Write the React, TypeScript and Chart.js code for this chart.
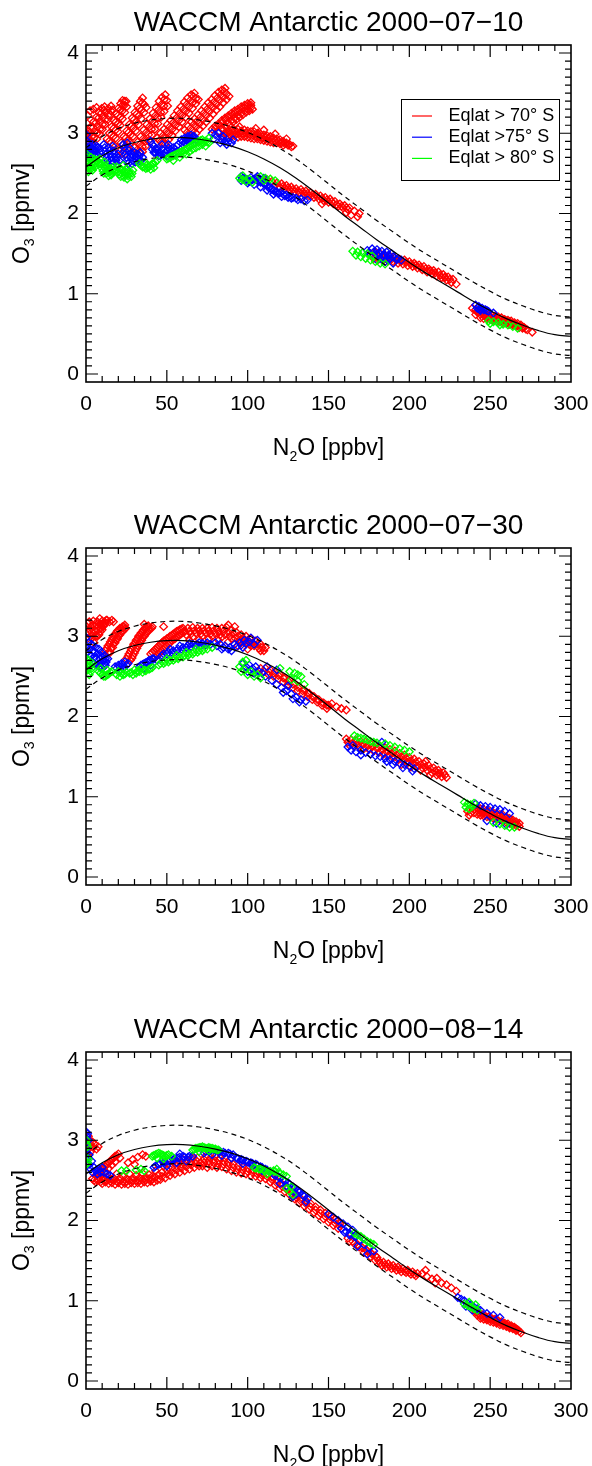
import React, { useEffect, useRef } from "react";
import { Chart, registerables } from "chart.js";

Chart.register(...registerables);

const FONT = "'Liberation Sans', Arial, Helvetica, sans-serif";

const PANEL_TITLES = [
  "WACCM Antarctic 2000\u221207\u221210",
  "WACCM Antarctic 2000\u221207\u221230",
  "WACCM Antarctic 2000\u221208\u221214",
];
const SERIES_LABELS = ["Eqlat > 70\u00b0 S", "Eqlat >75\u00b0 S", "Eqlat > 80\u00b0 S"];
const SERIES_COLORS = ["#ff0000", "#0000ff", "#00ff00"];
const X_TITLE: [string, boolean][] = [["N", false], ["2", true], ["O [ppbv]", false]];
const Y_TITLE: [string, boolean][] = [["O", false], ["3", true], [" [ppmv]", false]];
const X_TICKS = [0, 50, 100, 150, 200, 250, 300];
const Y_TICKS = [0, 1, 2, 3, 4];
const X_RANGE = [0, 300];
const Y_RANGE = [-0.1, 4.1];

// reference fit curve and its +/- envelope
const FIT_N2O = [0, 10, 20, 30, 40, 50, 60, 70, 80, 90, 100, 110, 120, 130, 140, 150, 160, 170, 180, 190, 200, 210, 220, 230, 240, 250, 260, 270, 280, 290, 300];
const FIT_MID = [2.58, 2.72, 2.82, 2.885, 2.925, 2.945, 2.945, 2.925, 2.89, 2.84, 2.77, 2.68, 2.57, 2.44, 2.29, 2.13, 1.97, 1.82, 1.67, 1.53, 1.39, 1.26, 1.14, 1.02, 0.9, 0.79, 0.69, 0.61, 0.54, 0.49, 0.47];
const FIT_HIGH = [2.82, 2.96, 3.06, 3.125, 3.165, 3.185, 3.185, 3.165, 3.13, 3.08, 3.01, 2.92, 2.81, 2.68, 2.53, 2.37, 2.21, 2.06, 1.91, 1.77, 1.63, 1.5, 1.38, 1.26, 1.14, 1.03, 0.93, 0.85, 0.78, 0.73, 0.71];
const FIT_LOW = [2.34, 2.48, 2.58, 2.645, 2.685, 2.705, 2.705, 2.685, 2.65, 2.6, 2.53, 2.44, 2.33, 2.2, 2.05, 1.89, 1.73, 1.58, 1.43, 1.29, 1.15, 1.02, 0.9, 0.78, 0.66, 0.55, 0.45, 0.37, 0.3, 0.25, 0.23];

type P = [number, number];

// ---------- panel 1 : 2000-07-10 ----------
const P1_RED: P[] = [
  [0.5,3.0],[0.8,3.12],[1.2,3.22],[2.5,3.28],[4.5,3.3],[6.5,3.32],
  [2,2.9],[3.7,2.96],[5.4,3.02],[7.1,3.08],[8.8,3.14],[10.5,3.2],[12.2,3.26],[13.9,3.31],[15.5,3.34],
  [1.2,3.02],[2.9,3.08],[4.6,3.14],[6.3,3.2],[8,3.26],[9.7,3.31],[11.5,3.33],
  [5,2.87],[6.7,2.93],[8.4,2.99],[10.1,3.05],[11.8,3.11],[13.5,3.17],[15.2,3.23],[16.5,3.29],
  [1,2.95],[2.7,3.01],[4.4,3.07],[6.1,3.13],[7.8,3.19],[9.5,3.25],[11.2,3.29],[3.5,2.9],[5.2,2.95],[6.9,3.0],[8.6,3.05],[10.3,3.11],[12,3.17],[13.7,3.22],[15.4,3.28],
  [13,2.93],[14.4,3.0],[15.8,3.08],[17.2,3.16],[18.6,3.24],[20,3.31],[21.4,3.37],[22.6,3.41],
  [15.5,2.88],[16.9,2.96],[18.3,3.04],[19.7,3.12],[21.1,3.2],[22.5,3.28],[23.8,3.35],[24.8,3.4],
  [14.2,2.9],[15.6,2.98],[17,3.06],[18.4,3.14],[19.8,3.22],[21.2,3.29],[22.6,3.35],[23.8,3.4],[17,2.86],[18.4,2.94],[19.8,3.02],[21.2,3.1],[22.6,3.18],[24,3.26],[25.2,3.33],
  [20,2.8],[21.7,2.88],[23.4,2.96],[25.1,3.03],[26.8,3.11],[28.5,3.19],[30.2,3.26],[31.9,3.34],[33.6,3.4],[35,3.44],
  [22.5,2.75],[24.2,2.83],[25.9,2.91],[27.6,2.98],[29.3,3.06],[31,3.14],[32.7,3.22],[34.4,3.29],[36,3.36],
  [21.2,2.78],[22.9,2.86],[24.6,2.94],[26.3,3.01],[28,3.09],[29.7,3.17],[31.4,3.24],[33.1,3.31],[34.8,3.38],[24,2.74],[25.7,2.81],[27.4,2.88],[29.1,2.96],[30.8,3.03],[32.5,3.11],[34.2,3.18],[35.9,3.26],[37.2,3.32],
  [30,2.82],[31.9,2.89],[33.8,2.96],[35.7,3.04],[37.6,3.11],[39.5,3.18],[41.4,3.25],[43.3,3.32],[45.2,3.4],[47.1,3.45],[49,3.48],
  [33,2.76],[34.9,2.83],[36.8,2.9],[38.7,2.98],[40.6,3.05],[42.5,3.12],[44.4,3.19],[46.3,3.26],[48.2,3.34],[50,3.41],
  [31.5,2.79],[33.4,2.86],[35.3,2.93],[37.2,3.01],[39.1,3.08],[41,3.15],[42.9,3.22],[44.8,3.29],[46.7,3.36],[48.4,3.42],[35,2.77],[36.9,2.84],[38.8,2.91],[40.7,2.98],[42.6,3.05],[44.5,3.12],[46.4,3.2],[48.3,3.27],[50.5,3.34],
  [44,2.94],[46.1,3.0],[48.2,3.05],[50.3,3.11],[52.4,3.16],[54.5,3.22],[56.6,3.28],[58.7,3.33],[60.8,3.39],[62.9,3.44],[65,3.48],[67,3.5],
  [47,2.88],[49.1,2.94],[51.2,2.99],[53.3,3.05],[55.4,3.1],[57.5,3.16],[59.6,3.22],[61.7,3.27],[63.8,3.33],[65.9,3.38],[68,3.43],
  [45.5,2.91],[47.6,2.97],[49.7,3.02],[51.8,3.08],[53.9,3.13],[56,3.19],[58.1,3.25],[60.2,3.3],[62.3,3.36],[64.4,3.41],[66.5,3.46],[49,2.86],[51.1,2.92],[53.2,2.97],[55.3,3.03],[57.4,3.08],[59.5,3.14],[61.6,3.2],[63.7,3.25],[65.8,3.31],[68,3.37],[69.5,3.42],
  [61,3.04],[63.1,3.09],[65.2,3.14],[67.2,3.18],[69.3,3.23],[71.4,3.28],[73.5,3.33],[75.6,3.38],[77.7,3.42],[79.8,3.47],[81.9,3.51],[84,3.54],[86,3.56],
  [64,2.98],[66.1,3.03],[68.2,3.08],[70.2,3.12],[72.3,3.17],[74.4,3.22],[76.5,3.27],[78.6,3.32],[80.7,3.36],[82.8,3.41],[84.9,3.45],[87,3.49],
  [62.5,3.01],[64.6,3.06],[66.7,3.11],[68.7,3.15],[70.8,3.2],[72.9,3.25],[75,3.3],[77.1,3.35],[79.2,3.39],[81.3,3.44],[83.4,3.48],[85.5,3.52],[66,2.96],[68.1,3.0],[70.2,3.05],[72.3,3.09],[74.4,3.14],[76.5,3.19],[78.6,3.24],[80.7,3.29],[82.8,3.33],[84.9,3.38],[87,3.42],[88.5,3.46],
  [78,3.05],[80,3.09],[82,3.12],[84,3.16],[86,3.19],[88,3.22],[90,3.25],[92,3.28],[94,3.3],[96,3.33],[98,3.35],[100,3.37],[102,3.38],
  [82,3.02],[84,3.06],[86,3.09],[88,3.13],[90,3.16],[92,3.19],[94,3.22],[96,3.25],[98,3.28],[100,3.3],[102,3.32],
  [80,3.06],[82,3.1],[84,3.13],[86,3.17],[88,3.2],[90,3.22],[92,3.25],[94,3.27],[96,3.3],[98,3.32],[100,3.34],[102,3.35],[85,3.04],[87,3.07],[89,3.1],[91,3.14],[93,3.17],[95,3.2],[97,3.23],[99,3.26],[101,3.28],[103,3.3],
  [84,2.96],[86,3.0],[88,3.02],[90,3.04],[92,3.04],[94,3.05],[96,3.03],[98,3.04],[100,3.03],[102,3.02],[104,3.02],[106,3.0],[108,2.99],[110,2.98],[112,2.97],[114,2.96],[116,2.94],[118,2.93],[120,2.92],[122,2.9],[124,2.88],[126,2.86],[128,2.84],
  [88,2.94],[90,2.96],[92,2.97],[94,2.95],[96,2.96],[98,2.96],[100,2.95],[102,2.94],[104,2.93],[106,2.93],[108,2.92],[110,2.91],[112,2.9],[114,2.89],[116,2.88],[118,2.88],[120,2.87],[122,2.85],
  [86,2.98],[89,2.99],[91,3.0],[93,3.0],[95,3.0],[97,3.0],[99,3.0],[101,2.99],[103,2.98],[105,2.97],[107,2.96],[109,2.95],[111,2.94],[113,2.93],[115,2.92],[117,2.91],[119,2.9],[121,2.88],[123,2.87],[125,2.85],[127,2.83],
  [95,3.08],[105,3.06],[110,3.04],[117,2.99],[124,2.93],
  [112,2.42],[115,2.4],[118,2.38],[121,2.37],[124,2.35],[127,2.33],[130,2.31],[133,2.3],[136,2.28],[139,2.26],[142,2.24],[145,2.22],[148,2.2],[151,2.18],[154,2.15],[157,2.12],[160,2.1],[163,2.07],[166,2.03],[169,2.0],
  [120,2.32],[123,2.31],[126,2.29],[129,2.27],[132,2.26],[135,2.24],[138,2.22],[141,2.2],[144,2.18],[147,2.16],[150,2.14],[153,2.12],[156,2.09],[159,2.07],[162,2.05],
  [117,2.35],[122,2.34],[125,2.32],[128,2.3],[131,2.28],[134,2.27],[137,2.25],[140,2.23],[143,2.21],[146,2.19],[149,2.17],[152,2.15],[155,2.11],[158,2.09],[161,2.07],
  [134,2.2],[146,2.12],[164,1.98],[168,1.96],[161,2.01],
  [176,1.5],[179,1.52],[182,1.5],[185,1.48],[188,1.47],[191,1.45],[194,1.43],[197,1.42],[200,1.4],[203,1.38],[206,1.36],[209,1.34],[212,1.31],[215,1.29],[218,1.27],[221,1.24],[224,1.21],[227,1.18],
  [178,1.44],[181,1.43],[184,1.42],[187,1.41],[190,1.4],[193,1.38],[196,1.37],[199,1.35],[202,1.34],[205,1.32],[208,1.3],[211,1.27],[214,1.25],[217,1.22],[220,1.2],[223,1.17],[226,1.14],[229,1.12],
  [177,1.47],[180,1.47],[183,1.46],[186,1.45],[189,1.43],[192,1.42],[195,1.41],[198,1.39],[201,1.37],[204,1.36],[207,1.33],[210,1.31],[213,1.29],[216,1.26],[219,1.23],[222,1.21],[225,1.18],
  [186,1.45],[195,1.4],[204,1.35],[213,1.28],[222,1.2],
  [239,0.82],[241,0.8],[243,0.77],[245,0.76],[247,0.75],[249,0.74],[251,0.73],[253,0.72],[255,0.71],[257,0.7],[259,0.68],[261,0.67],[263,0.66],[265,0.64],[267,0.63],[269,0.61],[271,0.58],[273,0.55],[276,0.52],
  [244,0.7],[246,0.69],[248,0.69],[250,0.68],[252,0.67],[254,0.66],[256,0.65],[258,0.64],[260,0.63],[262,0.62],[264,0.61],[266,0.6],[268,0.58],[270,0.57],
  [242,0.77],[244,0.74],[246,0.73],[248,0.72],[250,0.71],[252,0.7],[254,0.69],[256,0.68],[258,0.67],[260,0.66],[262,0.65],[264,0.63],[266,0.62],[268,0.6],[270,0.59],[272,0.56],
  [247,0.72],[253,0.69],[259,0.66],[265,0.62],[241,0.74],
];
const P1_BLUE: P[] = [
  [0.3,2.98],[0.5,2.9],[0.7,2.82],[1,2.74],[1.5,2.86],[2,2.78],[2.5,2.7],[3,2.82],[3.5,2.75],[4.5,2.8],[5,2.72],[6,2.78],[7,2.74],[8,2.8],[6.5,2.84],
  [0.5,2.78],[1.2,2.7],[2,2.88],[2.7,2.8],[3.2,2.72],[4,2.86],[4.8,2.76],[5.5,2.82],[6.2,2.74],[7.5,2.82],[8.5,2.76],
  [11,2.86],[12,2.78],[13,2.7],[14,2.82],[15,2.74],[16,2.66],[17,2.78],[18,2.7],[19,2.62],[20,2.74],[13.5,2.62],[16.5,2.84],
  [11.5,2.82],[12.5,2.74],[13.5,2.66],[14.5,2.78],[15.5,2.7],[16.5,2.62],[17.5,2.74],[18.5,2.66],[19.5,2.7],[20.5,2.66],
  [23,2.86],[24,2.78],[25,2.7],[26,2.62],[27,2.82],[28,2.74],[29,2.66],[30,2.76],[31,2.7],[32,2.64],[33,2.72],[34,2.66],[35,2.7],[25.5,2.88],
  [23.5,2.82],[24.5,2.74],[25.5,2.66],[26.5,2.78],[27.5,2.7],[28.5,2.62],[29.5,2.72],[30.5,2.64],[31.5,2.74],[32.5,2.68],[33.5,2.76],
  [40,2.9],[42,2.84],[44,2.8],[46,2.76],[48,2.74],[50,2.78],[52,2.8],[54,2.82],[56,2.84],[41,2.8],[43,2.76],[45,2.72],[47,2.86],[51,2.86],[55,2.76],
  [41,2.86],[43,2.8],[45,2.76],[47,2.8],[49,2.76],[51,2.82],[53,2.78],[55,2.8],[57,2.86],[42,2.76],[46,2.72],[50,2.72],
  [59,2.92],[61,2.94],[63,2.96],[65,2.98],[67,2.96],[60,2.86],[62,2.88],[64,2.9],[66,2.92],[68,2.92],
  [60,2.9],[62,2.92],[64,2.94],[66,2.96],[61,2.88],[63,2.92],[65,2.94],
  [78,3.0],[80,2.98],[82,3.0],[84,2.92],[86,2.9],[88,2.89],[90,2.88],[79,2.93],[83,2.88],[87,2.86],[91,2.92],[85,2.96],
  [96,2.46],[98,2.44],[100,2.42],[102,2.45],[104,2.43],[106,2.41],[108,2.39],[110,2.37],[112,2.35],[114,2.33],[116,2.29],[118,2.27],[120,2.26],[122,2.24],[124,2.23],[126,2.21],[128,2.2],[130,2.19],[133,2.18],[137,2.17],
  [106,2.46],[110,2.44],[96,2.41],[100,2.38],[104,2.36],[108,2.33],[112,2.29],[116,2.24],[121,2.21],
  [97,2.44],[99,2.42],[101,2.4],[103,2.42],[105,2.44],[107,2.42],[109,2.4],[111,2.38],[113,2.32],[115,2.3],[117,2.27],[119,2.25],[123,2.22],[125,2.2],[127,2.19],[131,2.17],[135,2.16],
  [174,1.54],[177,1.56],[180,1.55],[183,1.53],[186,1.52],[189,1.5],[178,1.48],[181,1.47],[184,1.46],[188,1.44],[192,1.43],[195,1.42],[190,1.38],[185,1.4],[180,1.42],
  [175,1.51],[178,1.52],[181,1.51],[184,1.49],[187,1.48],[190,1.46],[193,1.44],[186,1.43],[182,1.44],
  [241,0.86],[243,0.84],[245,0.82],[247,0.8],[244,0.79],[249,0.78],[252,0.76],[242,0.82],[244,0.81],[246,0.8],[248,0.79],
];
const P1_GREEN: P[] = [
  [0.3,2.74],[0.5,2.66],[1,2.58],[1.5,2.52],[2,2.64],[2.5,2.56],[3.5,2.62],[4,2.54],[5,2.64],[5.5,2.58],[6.5,2.66],[7.5,2.62],[3,2.7],[8.5,2.68],
  [0.5,2.7],[1,2.62],[1.5,2.56],[2.5,2.6],[3,2.66],[3.5,2.56],[4.5,2.6],[5,2.68],[6,2.62],[7,2.66],[8,2.64],
  [10,2.56],[11,2.5],[12,2.6],[13,2.53],[14,2.47],[15,2.56],[16,2.5],[17,2.58],[18,2.54],[11.5,2.64],[9.5,2.62],
  [10.5,2.53],[11.5,2.57],[12.5,2.5],[13.5,2.56],[14.5,2.52],[15.5,2.48],[16.5,2.54],[17.5,2.52],
  [20,2.52],[21.5,2.46],[22.5,2.54],[24,2.48],[25.5,2.43],[26.5,2.52],[28,2.46],[29,2.54],[19,2.58],[23,2.6],
  [20.5,2.49],[21,2.56],[22,2.5],[23.5,2.45],[24.5,2.52],[25,2.56],[26,2.47],[27,2.5],[28.5,2.5],
  [33,2.62],[35,2.58],[37,2.56],[39,2.58],[41,2.62],[43,2.64],[36,2.63],[40,2.55],[38,2.61],[42,2.57],
  [34,2.6],[36,2.58],[38,2.57],[40,2.6],[42,2.62],[44,2.66],
  [50,2.68],[52,2.7],[54,2.72],[56,2.74],[58,2.76],[60,2.78],[62,2.8],[64,2.83],[66,2.86],[68,2.88],[70,2.9],[72,2.92],[74,2.9],[76,2.88],[66,2.8],[70,2.84],[74,2.84],[62,2.74],[58,2.7],[54,2.66],[72,2.86],[76,2.94],
  [51,2.69],[53,2.71],[55,2.73],[57,2.75],[59,2.77],[61,2.79],[63,2.81],[65,2.84],[67,2.87],[69,2.89],[71,2.91],[73,2.9],[75,2.89],[60,2.74],[64,2.77],[68,2.82],[72,2.88],
  [95,2.44],[97,2.42],[99,2.4],[101,2.43],[97,2.47],[108,2.46],[111,2.44],[114,2.43],[117,2.41],[110,2.41],[103,2.39],
  [165,1.53],[168,1.52],[171,1.51],[174,1.5],[170,1.46],[173,1.44],[176,1.42],[179,1.4],[182,1.38],[185,1.37],[167,1.48],[177,1.47],
  [249,0.66],[252,0.65],[255,0.64],[258,0.62],[261,0.61],[264,0.59],[267,0.57],[250,0.63],[256,0.61],
];

// ---------- panel 2 : 2000-07-30 ----------
const P2_RED: P[] = [
  [0.5,3.12],[1,3.05],[1.5,2.98],[2,3.18],[3,3.12],[3.5,3.05],[4,2.98],[4.5,3.19],[5.5,3.13],[6,3.06],[7,3.18],[8,3.12],[9,3.15],[10,3.19],[11,3.13],[12,3.16],[5,2.92],[7,3.0],[9,3.06],[13,3.2],[14.5,3.18],[16,3.2],[8.5,3.22],
  [1,3.16],[2.5,3.08],[3,3.0],[4,3.14],[5,3.08],[6,3.0],[6.5,3.14],[7.5,3.08],[8,3.02],[9.5,3.1],[10.5,3.14],[11.5,3.18],[12.5,3.2],[10,3.08],
  [12,2.82],[13.5,2.88],[15,2.93],[16.5,2.98],[18,3.03],[19.5,3.07],[21,3.1],[22.5,3.12],[14,2.8],[15.5,2.85],[17,2.9],[18.5,2.95],[20,3.0],[21.5,3.04],[23,3.07],[24.5,3.1],
  [13,2.85],[14.5,2.9],[16,2.96],[17.5,3.0],[19,3.05],[20.5,3.08],[22,3.1],[23.5,3.12],[15,2.8],[16.5,2.86],[18,2.92],[19.5,2.97],[21,3.02],[22.5,3.06],[24,3.09],
  [25,2.72],[26.5,2.78],[28,2.84],[29.5,2.9],[31,2.95],[32.5,3.0],[34,3.04],[35.5,3.08],[37,3.11],[38.5,3.13],[27.5,2.7],[29,2.76],[30.5,2.82],[32,2.88],[33.5,2.93],[35,2.98],[36.5,3.02],[38,3.06],[39.5,3.09],[41,3.12],
  [26,2.75],[27.5,2.81],[29,2.87],[30.5,2.92],[32,2.97],[33.5,3.02],[35,3.06],[36.5,3.1],[38,3.12],[28.5,2.73],[30,2.79],[31.5,2.85],[33,2.9],[34.5,2.95],[36,3.0],[37.5,3.04],[39,3.08],[40.5,3.1],
  [40,2.78],[42,2.82],[44,2.86],[46,2.9],[48,2.94],[50,2.97],[52,3.0],[54,3.03],[56,3.06],[58,3.08],[43,2.74],[45,2.78],[47,2.82],[49,2.86],[51,2.9],[53,2.94],[55,2.97],[57,3.0],[59,3.03],[61,3.06],
  [41,2.8],[43,2.84],[45,2.88],[47,2.92],[49,2.95],[51,2.98],[53,3.01],[55,3.04],[57,3.07],[59,3.09],[44,2.76],[46,2.8],[48,2.84],[50,2.88],[52,2.92],[54,2.96],[56,2.99],[58,3.02],[60,3.05],
  [60,3.1],[63,3.1],[66,3.11],[69,3.1],[72,3.1],[75,3.1],[78,3.11],[81,3.1],[84,3.1],[87,3.11],[90,3.08],[93,3.05],[96,3.02],[99,3.0],[102,2.97],[105,2.94],[108,2.9],[111,2.86],
  [62,3.02],[65,3.03],[68,3.04],[71,3.03],[74,3.04],[77,3.03],[80,3.03],[83,3.02],[86,3.02],[89,3.0],[92,2.98],[95,2.95],[98,2.93],[101,2.9],[104,2.88],[107,2.85],[110,2.82],
  [61,3.06],[64,3.06],[67,3.07],[70,3.07],[73,3.07],[76,3.07],[79,3.07],[82,3.06],[85,3.06],[88,3.05],[91,3.03],[94,3.0],[97,2.98],[100,2.95],[103,2.92],[106,2.9],[109,2.86],[66,2.99],[72,3.0],[78,3.0],[84,2.99],[90,2.97],[96,2.92],[102,2.88],[108,2.82],
  [64,2.95],[70,2.96],[76,2.97],[82,2.95],[88,2.93],[94,2.88],[100,2.84],
  [17,3.18],[24,3.14],[36,3.15],[48,3.12],[92,3.12],[88,3.14],
  [108,2.6],[111,2.6],[114,2.58],[117,2.55],[120,2.52],[123,2.48],[126,2.45],[129,2.41],[132,2.37],[135,2.33],[138,2.29],[141,2.25],[144,2.21],[147,2.17],[150,2.14],
  [113,2.52],[116,2.5],[119,2.47],[122,2.43],[125,2.4],[128,2.36],[131,2.32],[134,2.28],[137,2.25],[140,2.21],[143,2.18],[146,2.14],
  [110,2.56],[113,2.56],[116,2.54],[119,2.51],[122,2.48],[125,2.44],[128,2.4],[131,2.36],[134,2.32],[137,2.29],[140,2.25],[143,2.21],[146,2.17],[149,2.14],
  [152,2.16],[155,2.12],[158,2.1],[161,2.08],[149,2.1],
  [161,1.72],[164,1.71],[167,1.7],[170,1.69],[173,1.68],[176,1.66],[179,1.65],[182,1.63],[185,1.61],[188,1.59],[191,1.57],[194,1.54],[197,1.52],[200,1.49],[203,1.47],[206,1.44],[209,1.41],[212,1.39],[215,1.36],[218,1.33],[221,1.3],
  [163,1.64],[166,1.63],[169,1.62],[172,1.6],[175,1.59],[178,1.57],[181,1.55],[184,1.53],[187,1.51],[190,1.49],[193,1.47],[196,1.45],[199,1.43],[202,1.41],[205,1.38],[208,1.36],[211,1.33],[214,1.3],[217,1.27],[220,1.25],[223,1.24],
  [162,1.68],[165,1.67],[168,1.66],[171,1.65],[174,1.63],[177,1.62],[180,1.6],[183,1.58],[186,1.56],[189,1.54],[192,1.52],[195,1.5],[198,1.48],[201,1.45],[204,1.43],[207,1.4],[210,1.37],[213,1.35],[216,1.32],[219,1.29],[222,1.27],
  [195,1.4],[201,1.37],[207,1.33],[213,1.27],[218,1.29],[210,1.44],
  [236,0.82],[238,0.8],[240,0.84],[242,0.86],[244,0.85],[246,0.84],[248,0.83],[250,0.82],[252,0.8],[254,0.79],[256,0.78],[258,0.77],[260,0.75],[262,0.73],[264,0.71],[266,0.69],[268,0.67],
  [242,0.78],[244,0.77],[246,0.76],[248,0.75],[250,0.74],[252,0.73],[254,0.72],[256,0.71],[258,0.69],[260,0.68],[262,0.67],[264,0.65],[266,0.64],[268,0.63],
  [240,0.8],[243,0.81],[245,0.8],[247,0.79],[249,0.78],[251,0.77],[253,0.76],[255,0.75],[257,0.73],[259,0.72],[261,0.7],[263,0.68],[265,0.67],[267,0.65],
  [245,0.81],[251,0.77],[257,0.74],[263,0.69],[237,0.77],[239,0.86],
];
const P2_BLUE: P[] = [
  [0.3,2.98],[0.5,2.88],[1,2.8],[1.5,2.92],[2.5,2.84],[3,2.76],[3.5,2.9],[4.5,2.82],[5.5,2.74],[6,2.86],[7,2.78],[8.5,2.72],[9.5,2.8],[10.5,2.7],[11.5,2.76],
  [2,2.78],[4,2.88],[5,2.8],[6.5,2.72],[8,2.84],[9,2.76],[10,2.74],[11,2.7],[12,2.72],
  [5,2.66],[7,2.64],[9,2.62],[11,2.64],[12.5,2.68],[13.5,2.72],[6,2.64],[8,2.62],[10,2.6],[12,2.64],
  [18,2.62],[20,2.64],[22,2.66],[24,2.68],[26,2.66],[21,2.58],[23,2.6],[19,2.6],[21,2.62],[23,2.64],[25,2.64],
  [33,2.62],[35,2.65],[37,2.67],[39,2.7],[41,2.72],[36,2.6],[40,2.64],[44,2.7],[34,2.64],[36,2.66],[38,2.68],[40,2.7],[42,2.72],
  [47,2.76],[50,2.78],[53,2.8],[56,2.82],[59,2.84],[62,2.86],[65,2.87],[68,2.88],[71,2.88],[74,2.89],[77,2.9],[52,2.84],[58,2.88],[64,2.91],[70,2.92],
  [48,2.78],[51,2.8],[54,2.82],[57,2.84],[60,2.86],[63,2.88],[66,2.9],[69,2.9],[72,2.91],[75,2.92],
  [80,2.92],[83,2.9],[86,2.88],[89,2.86],[92,2.9],[95,2.92],[98,2.95],[101,2.93],[104,2.9],[84,2.84],[90,2.82],[97,2.86],[102,2.98],[106,2.95],
  [81,2.88],[85,2.86],[88,2.84],[93,2.87],[96,2.89],[99,2.91],
  [97,2.66],[99,2.62],[101,2.64],[103,2.6],[105,2.62],[107,2.56],[109,2.54],[111,2.5],[100,2.56],[104,2.54],[115,2.45],[118,2.4],[121,2.36],[124,2.32],[127,2.28],[130,2.24],[133,2.21],[136,2.19],[122,2.3],[128,2.22],[132,2.18],[125,2.38],[112,2.62],[118,2.58],
  [162,1.62],[164,1.58],[167,1.56],[170,1.58],[173,1.55],[176,1.53],[179,1.51],[182,1.5],[185,1.48],[188,1.46],[191,1.44],[194,1.42],[197,1.4],[200,1.38],[203,1.35],[190,1.4],[196,1.36],[202,1.32],[186,1.44],[170,1.52],[165,1.64],[183,1.68],
  [244,0.89],[247,0.88],[250,0.87],[253,0.85],[256,0.84],[259,0.82],[262,0.79],[241,0.91],[248,0.7],[254,0.67],[260,0.65],
];
const P2_GREEN: P[] = [
  [0.3,2.72],[0.5,2.64],[1,2.58],[1.5,2.7],[2.5,2.62],[3,2.56],[4,2.66],[2,2.52],[0.5,2.68],[1,2.62],[2,2.66],[3.5,2.6],
  [8,2.56],[10,2.52],[12,2.5],[14,2.53],[16,2.56],[9,2.6],[13,2.58],[9,2.54],[11,2.5],[13,2.52],[15,2.55],
  [19,2.52],[21,2.5],[23,2.52],[25,2.55],[20,2.56],[22,2.54],[24,2.53],
  [27,2.54],[29,2.52],[31,2.54],[33,2.56],[35,2.55],[37,2.57],[39,2.59],[41,2.61],[30,2.58],[34,2.6],[28,2.55],[32,2.57],[36,2.58],[40,2.6],
  [45,2.64],[48,2.66],[51,2.68],[54,2.7],[57,2.72],[60,2.74],[63,2.76],[66,2.78],[69,2.8],[72,2.82],[75,2.84],[50,2.72],[56,2.76],[62,2.8],[68,2.84],[78,2.86],
  [46,2.66],[49,2.68],[52,2.7],[55,2.72],[58,2.74],[61,2.76],[64,2.78],[67,2.8],[70,2.82],[73,2.84],
  [95,2.62],[96,2.56],[98,2.58],[100,2.52],[102,2.56],[104,2.5],[106,2.52],[97,2.68],[99,2.7],[108,2.48],[126,2.56],[129,2.54],[131,2.52],[133,2.5],[127,2.46],[131,2.44],[135,2.4],[120,2.6],
  [166,1.76],[168,1.74],[170,1.73],[172,1.72],[174,1.71],[176,1.69],[178,1.68],[185,1.66],[188,1.64],[191,1.62],[194,1.6],[197,1.58],[200,1.56],[180,1.67],
  [234,0.93],[236,0.91],[238,0.9],[240,0.92],[235,0.87],[237,0.85],[239,0.88],[256,0.66],[259,0.64],[262,0.62],[265,0.62],[252,0.68],
];

// ---------- panel 3 : 2000-08-14 ----------
const P3_RED: P[] = [
  [0.3,3.02],[0.5,2.95],[1,2.88],[2,3.0],[2.5,2.93],[3,2.86],[4,2.98],[4.5,2.91],[5.5,2.95],[6.5,2.89],[7.5,2.92],[1.5,3.05],
  [6,2.56],[8,2.6],[10,2.64],[12,2.68],[14,2.72],[16,2.76],[18,2.8],[20,2.83],[8,2.54],[10,2.57],[12,2.61],[14,2.65],[16,2.69],[18,2.73],[21,2.78],
  [7,2.58],[9,2.62],[11,2.66],[13,2.7],[15,2.74],[17,2.78],[19,2.81],
  [26,2.72],[29,2.76],[32,2.79],[35,2.82],[37,2.8],[30,2.7],
  [4,2.52],[6,2.48],[8,2.5],[10,2.46],[12,2.48],[14,2.46],[16,2.47],[18,2.45],[20,2.47],[22,2.45],[24,2.46],[26,2.45],[28,2.47],[30,2.46],[32,2.47],[34,2.46],[36,2.48],[38,2.47],[40,2.49],[42,2.48],[44,2.5],
  [5,2.5],[7,2.5],[9,2.48],[11,2.5],[13,2.5],[15,2.49],[17,2.5],[19,2.49],[21,2.5],[23,2.49],[25,2.49],[27,2.5],[29,2.5],[31,2.5],[33,2.5],[35,2.51],[37,2.51],[39,2.52],[41,2.52],[43,2.54],
  [9,2.56],[13,2.54],[17,2.53],[21,2.53],[25,2.52],[29,2.53],[33,2.53],[37,2.54],[41,2.55],[45,2.57],
  [11,2.53],[15,2.52],[23,2.55],[31,2.56],[39,2.57],
  [19,2.58],[27,2.58],[35,2.59],[43,2.62],
  [46,2.51],[49,2.53],[52,2.56],[55,2.58],[58,2.6],[61,2.62],[64,2.64],[67,2.66],[70,2.68],
  [47,2.6],[50,2.63],[53,2.66],[56,2.68],[59,2.7],[62,2.72],[65,2.73],[68,2.75],
  [47,2.55],[50,2.58],[53,2.6],[56,2.63],[59,2.65],[62,2.67],[65,2.69],[68,2.71],[71,2.72],[51,2.66],[57,2.71],[63,2.75],[69,2.78],
  [48,2.68],[54,2.73],[60,2.76],[66,2.78],
  [72,2.68],[75,2.66],[78,2.68],[81,2.66],[84,2.67],[87,2.64],[73,2.76],[76,2.74],[79,2.76],[82,2.75],[85,2.74],[88,2.72],[74,2.8],[80,2.8],[86,2.78],
  [73,2.72],[76,2.7],[79,2.72],[82,2.7],[85,2.7],[88,2.68],[77,2.78],[83,2.78],[89,2.76],
  [90,2.62],[93,2.6],[96,2.59],[99,2.58],[102,2.56],[105,2.55],[108,2.53],[91,2.7],[94,2.68],[97,2.67],[100,2.65],[103,2.63],[106,2.61],[109,2.59],
  [91,2.66],[94,2.64],[97,2.63],[100,2.61],[103,2.6],[106,2.58],[109,2.56],
  [111,2.52],[114,2.48],[117,2.44],[120,2.4],[123,2.36],[126,2.32],[129,2.27],[132,2.22],[112,2.58],[115,2.54],[118,2.5],[121,2.46],[124,2.42],[127,2.37],[130,2.32],[133,2.27],
  [112,2.55],[115,2.51],[118,2.47],[121,2.43],[124,2.39],[127,2.34],[130,2.29],[133,2.24],
  [135,2.18],[138,2.14],[141,2.1],[144,2.06],[147,2.02],[150,1.98],[153,1.94],[156,1.9],[136,2.25],[139,2.21],[142,2.17],[145,2.13],[148,2.09],[151,2.05],[154,2.01],[157,1.96],
  [136,2.21],[139,2.17],[142,2.13],[145,2.09],[148,2.05],[151,2.01],[154,1.97],[157,1.93],
  [162,1.78],[165,1.74],[168,1.7],[171,1.66],[174,1.62],[177,1.58],[180,1.54],[172,1.6],[176,1.55],[179,1.5],
  [163,1.74],[166,1.71],[169,1.67],[173,1.64],[176,1.6],[179,1.56],
  [181,1.5],[184,1.48],[187,1.46],[190,1.44],[193,1.42],[196,1.4],[199,1.38],[202,1.36],[205,1.34],[183,1.44],[186,1.42],[189,1.4],[192,1.38],[195,1.36],[198,1.35],[201,1.33],[204,1.31],
  [182,1.47],[185,1.45],[188,1.43],[191,1.41],[194,1.39],[197,1.37],[200,1.35],[203,1.33],
  [208,1.34],[211,1.3],[214,1.27],[217,1.28],[220,1.22],[223,1.2],[226,1.16],[229,1.12],[210,1.38],[216,1.22],
  [241,0.86],[243,0.84],[245,0.83],[247,0.81],[249,0.8],[251,0.78],[253,0.77],[255,0.75],[257,0.74],[259,0.72],[261,0.71],[263,0.69],[265,0.67],[267,0.64],[269,0.6],
  [244,0.78],[246,0.77],[248,0.76],[250,0.74],[252,0.73],[254,0.72],[256,0.7],[258,0.69],[260,0.68],[262,0.66],[264,0.65],[266,0.63],
  [242,0.82],[244,0.81],[246,0.8],[248,0.78],[250,0.77],[252,0.76],[254,0.74],[256,0.73],[258,0.71],[260,0.7],[262,0.68],[264,0.67],[266,0.65],[268,0.62],
];
const P3_BLUE: P[] = [
  [0.3,3.1],[0.5,3.05],[1,3.08],[1.5,3.0],[0.5,2.84],[1,2.78],[2,2.82],[0.3,2.9],
  [2,2.7],[3,2.64],[4,2.6],[5,2.66],[6,2.62],[7,2.58],[8,2.64],[9,2.6],[11,2.6],[13,2.58],[15,2.56],[10,2.66],[3.5,2.74],
  [42,2.66],[45,2.7],[48,2.72],[51,2.74],[54,2.76],[57,2.78],[60,2.8],[63,2.79],[66,2.8],[50,2.68],[56,2.72],[62,2.74],[58,2.83],
  [43,2.68],[46,2.71],[49,2.73],[52,2.75],[55,2.77],[58,2.79],[61,2.79],[64,2.8],
  [73,2.84],[76,2.86],[79,2.88],[82,2.87],[85,2.85],[88,2.84],[91,2.82],[78,2.82],[84,2.81],[90,2.78],
  [74,2.86],[77,2.87],[80,2.88],[83,2.86],[86,2.84],[89,2.83],
  [93,2.78],[96,2.76],[99,2.74],[102,2.72],[105,2.7],[108,2.67],[111,2.64],[114,2.61],[97,2.71],[103,2.68],[109,2.62],
  [94,2.77],[97,2.75],[100,2.73],[103,2.71],[106,2.69],[109,2.66],[112,2.63],
  [116,2.58],[119,2.55],[122,2.51],[125,2.47],[128,2.42],[131,2.37],[134,2.32],[137,2.27],[124,2.43],[130,2.33],[136,2.23],[120,2.46],[128,2.3],
  [117,2.56],[120,2.53],[123,2.49],[126,2.45],[129,2.4],[132,2.35],[135,2.3],
  [150,2.08],[153,2.04],[156,2.0],[159,1.96],[162,1.92],[165,1.88],[160,1.85],[163,1.82],[167,1.8],[158,1.9],
  [161,1.86],[163,1.84],[166,1.8],[169,1.75],[172,1.7],[175,1.66],[178,1.62],[168,1.68],[174,1.58],
  [230,1.04],[232,1.02],[234,1.0],[236,0.97],[238,0.95],[240,0.92],[242,0.9],[235,0.93],[239,0.88],[244,0.88],[248,0.84],[252,0.82],[256,0.79],
];
const P3_GREEN: P[] = [
  [0.3,3.0],[0.5,2.95],[1,2.92],[0.5,2.78],[1,2.72],[1.5,2.76],[0.3,2.7],
  [22,2.62],[25,2.62],[31,2.63],[34,2.64],[36,2.62],
  [41,2.8],[43,2.82],[45,2.84],[47,2.82],[49,2.8],[51,2.82],[53,2.8],[44,2.78],[48,2.77],
  [42,2.81],[44,2.83],[46,2.83],[48,2.81],[50,2.81],
  [66,2.88],[68,2.9],[70,2.91],[72,2.92],[74,2.9],[76,2.91],[78,2.9],[80,2.89],[82,2.88],[70,2.86],[76,2.87],
  [67,2.89],[69,2.9],[71,2.91],[73,2.91],[75,2.9],[77,2.9],[79,2.89],[81,2.88],
  [104,2.66],[107,2.64],[110,2.63],[113,2.61],[116,2.62],[119,2.6],[122,2.57],[124,2.55],[112,2.58],[118,2.64],
  [105,2.65],[108,2.64],[111,2.62],[114,2.61],[117,2.61],[120,2.59],
  [124,2.4],[126,2.36],[128,2.32],[127,2.42],
  [166,1.84],[168,1.82],[170,1.8],[172,1.77],[174,1.74],[176,1.72],[178,1.7],
  [234,0.96],[236,0.94],[238,0.92],[240,0.9],[242,0.88],[237,0.98],[241,0.95],
];

const PANEL_SERIES: P[][][] = [
  [P1_RED, P1_BLUE, P1_GREEN],
  [P2_RED, P2_BLUE, P2_GREEN],
  [P3_RED, P3_BLUE, P3_GREEN],
];

const PANEL_TOPS = [0, 503, 1007];
const CANVAS_W = 592;
const CANVAS_H = 504;

function drawParts(ctx: CanvasRenderingContext2D, parts: [string, boolean][], cx: number, cy: number, size: number, rotate: boolean) {
  const sub = Math.round(size * 0.62);
  const widths = parts.map(([t, s]) => {
    ctx.font = `${s ? sub : size}px ${FONT}`;
    return ctx.measureText(t).width;
  });
  const total = widths.reduce((p, c) => p + c, 0);
  ctx.save();
  ctx.translate(cx, cy);
  if (rotate) ctx.rotate(-Math.PI / 2);
  ctx.fillStyle = "#000";
  ctx.textAlign = "left";
  ctx.textBaseline = "alphabetic";
  let x = -total / 2;
  const base = size * 0.35;
  parts.forEach(([t, s], i) => {
    ctx.font = `${s ? sub : size}px ${FONT}`;
    ctx.fillText(t, x, base + (s ? size * 0.25 : 0));
    x += widths[i];
  });
  ctx.restore();
}

const idlPlugin = {
  id: "idl",
  afterDatasetsDraw(chart: any, _args: any, opts: any) {
    const ctx: CanvasRenderingContext2D = chart.ctx;
    const a = chart.chartArea;
    const xs = chart.scales.x;
    const ys = chart.scales.y;
    ctx.save();
    ctx.strokeStyle = "#000";
    ctx.lineWidth = 1.2;
    ctx.beginPath();
    for (let i = 1; i < 30; i++) {
      const px = xs.getPixelForValue(i * 10);
      const len = i % 5 === 0 ? 12 : 6;
      ctx.moveTo(px, a.bottom);
      ctx.lineTo(px, a.bottom - len);
      ctx.moveTo(px, a.top);
      ctx.lineTo(px, a.top + len);
    }
    for (let i = 0; i <= 40; i++) {
      const py = ys.getPixelForValue(i / 10);
      const len = i % 10 === 0 ? 12 : 6;
      ctx.moveTo(a.left, py);
      ctx.lineTo(a.left + len, py);
      ctx.moveTo(a.right, py);
      ctx.lineTo(a.right - len, py);
    }
    ctx.stroke();
    ctx.lineWidth = 1.6;
    ctx.strokeRect(a.left, a.top, a.right - a.left, a.bottom - a.top);

    ctx.fillStyle = "#000";
    ctx.font = `28px ${FONT}`;
    ctx.textAlign = "center";
    ctx.textBaseline = "middle";
    ctx.fillText(opts.title, (a.left + a.right) / 2, 23.5);

    drawParts(ctx, X_TITLE, (a.left + a.right) / 2, a.bottom + 64.7, 23, false);
    drawParts(ctx, Y_TITLE, 20.5, (a.top + a.bottom) / 2, 23, true);

    if (opts.legend) {
      const bx = a.right - 170;
      const by = a.top + 54;
      ctx.lineWidth = 1;
      ctx.strokeStyle = "#000";
      ctx.strokeRect(bx + 0.5, by + 0.5, 158, 81);
      ctx.font = `18px ${FONT}`;
      ctx.textAlign = "left";
      ctx.textBaseline = "middle";
      SERIES_LABELS.forEach((lab, i) => {
        const y = by + 17 + i * 21.2;
        ctx.strokeStyle = SERIES_COLORS[i];
        ctx.lineWidth = 1.2;
        ctx.beginPath();
        ctx.moveTo(bx + 11, y);
        ctx.lineTo(bx + 31, y);
        ctx.stroke();
        ctx.fillStyle = "#000";
        ctx.fillText(lab, bx + 47.5, y);
      });
    }
    ctx.restore();
  },
};

function Panel({ index }: { index: number }) {
  const ref = useRef<HTMLCanvasElement | null>(null);
  useEffect(() => {
    if (!ref.current) return;
    const series = PANEL_SERIES[index];
    const curve = (vals: number[]) => FIT_N2O.map((x, i) => ({ x, y: vals[i] }));
    const lineDs = (vals: number[], dash: number[]) => ({
      data: curve(vals),
      showLine: true,
      borderColor: "#000",
      borderWidth: 1.2,
      borderDash: dash,
      pointRadius: 0,
      tension: 0.4,
      fill: false,
      order: 0,
    });
    const pts = (k: number) => ({
      label: SERIES_LABELS[k],
      data: series[k].map(([x, y]) => ({ x, y })),
      showLine: false,
      pointStyle: "rectRot",
      pointRadius: 3.8,
      pointBorderWidth: 1.3,
      borderColor: SERIES_COLORS[k],
      backgroundColor: "rgba(0,0,0,0)",
      order: 3 - k,
    });
    const tickFont = { family: FONT, size: 21 };
    const chart = new Chart(ref.current, {
      type: "scatter",
      data: {
        datasets: [
          lineDs(FIT_MID, []),
          lineDs(FIT_HIGH, [5, 4]),
          lineDs(FIT_LOW, [5, 4]),
          pts(0),
          pts(1),
          pts(2),
        ] as any,
      },
      options: {
        animation: false,
        responsive: false,
        maintainAspectRatio: false,
        devicePixelRatio: 1,
        events: [],
        layout: { padding: { left: 0, right: 21, top: 45, bottom: 0 } },
        plugins: {
          legend: { display: false },
          tooltip: { enabled: false },
          title: { display: false },
          idl: { title: PANEL_TITLES[index], legend: index === 0 },
        } as any,
        scales: {
          x: {
            type: "linear",
            min: X_RANGE[0],
            max: X_RANGE[1],
            grid: { display: false, drawTicks: false },
            border: { display: false },
            ticks: { font: tickFont, color: "#000", padding: 10, autoSkip: false, maxRotation: 0 },
            afterBuildTicks: (ax: any) => {
              ax.ticks = X_TICKS.map((v) => ({ value: v }));
            },
            afterFit: (ax: any) => {
              ax.height = 122;
              ax.paddingLeft = 0;
              ax.paddingRight = 0;
              ax.paddingTop = 0;
              ax.paddingBottom = 0;
            },
          },
          y: {
            type: "linear",
            min: Y_RANGE[0],
            max: Y_RANGE[1],
            grid: { display: false, drawTicks: false },
            border: { display: false },
            ticks: { font: tickFont, color: "#000", padding: 7 },
            afterBuildTicks: (ax: any) => {
              ax.ticks = Y_TICKS.map((v) => ({ value: v }));
            },
            afterFit: (ax: any) => {
              ax.width = 86;
              ax.paddingLeft = 0;
              ax.paddingRight = 0;
              ax.paddingTop = 0;
              ax.paddingBottom = 0;
            },
          },
        } as any,
      },
      plugins: [idlPlugin as any],
    });
    return () => chart.destroy();
  }, [index]);
  return (
    <canvas
      ref={ref}
      width={CANVAS_W}
      height={CANVAS_H}
      style={{ position: "absolute", left: 0, top: PANEL_TOPS[index], width: CANVAS_W, height: CANVAS_H }}
    />
  );
}

export default function App() {
  return (
    <div
      style={{
        position: "absolute",
        left: 0,
        top: 0,
        width: 592,
        height: 1466,
        overflow: "hidden",
        background: "#ffffff",
      }}
    >
      {[0, 1, 2].map((i) => (
        <Panel key={i} index={i} />
      ))}
    </div>
  );
}
